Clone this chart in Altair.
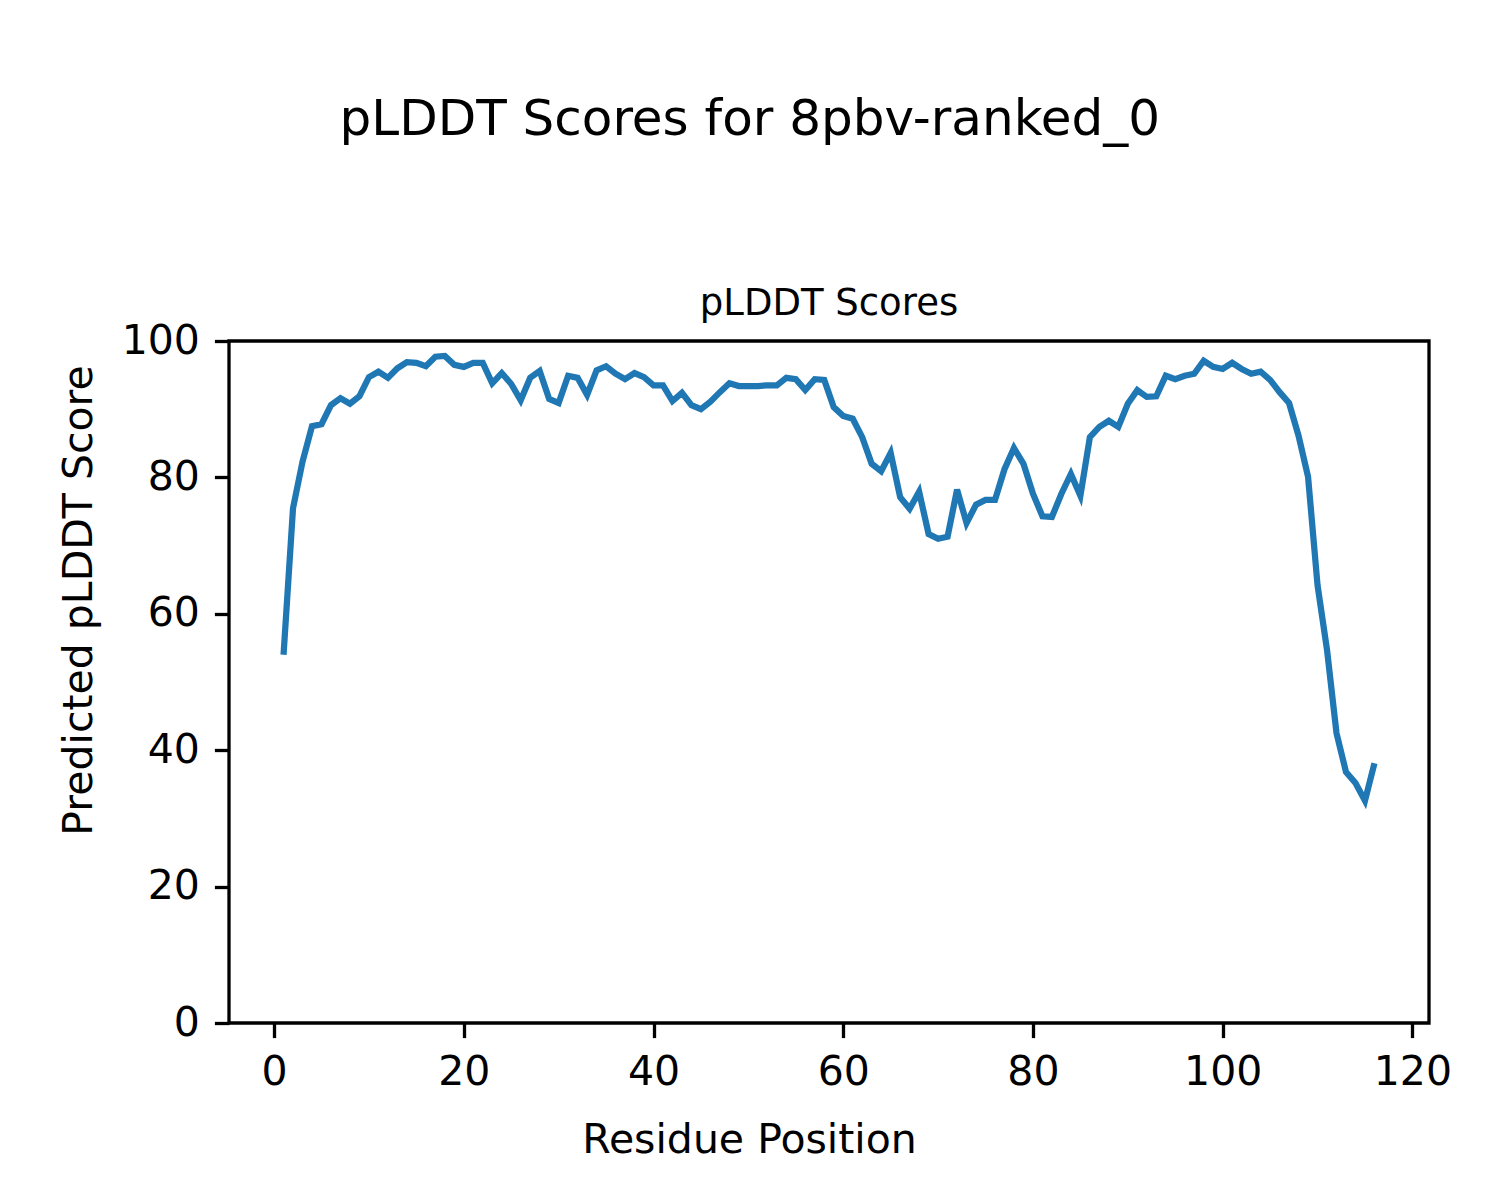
import altair as alt
import pandas as pd

residues = list(range(1, 117))
plddt = [
    54.0, 75.5, 82.3, 87.5, 87.8, 90.6, 91.6, 90.8, 91.9, 94.7,
    95.5, 94.6, 96.0, 96.9, 96.8, 96.3, 97.7, 97.8, 96.5, 96.2,
    96.8, 96.8, 93.8, 95.3, 93.7, 91.3, 94.6, 95.6, 91.5, 90.9,
    94.9, 94.6, 92.1, 95.7, 96.3, 95.2, 94.4, 95.3, 94.7, 93.5,
    93.5, 91.2, 92.4, 90.6, 90.0, 91.1, 92.5, 93.8, 93.4, 93.4,
    93.4, 93.5, 93.5, 94.6, 94.4, 92.8, 94.4, 94.3, 90.3, 89.0,
    88.6, 85.9, 82.0, 80.9, 83.6, 77.1, 75.4, 77.9, 71.7, 71.0,
    71.3, 78.2, 73.3, 76.0, 76.7, 76.7, 81.2, 84.3, 82.0, 77.6,
    74.3, 74.2, 77.6, 80.5, 77.3, 85.9, 87.4, 88.3, 87.4, 90.8,
    92.8, 91.8, 91.9, 94.9, 94.4, 94.9, 95.2, 97.1, 96.2, 95.9,
    96.8, 95.9, 95.2, 95.5, 94.3, 92.5, 90.9, 86.1, 80.1, 64.2,
    54.7, 42.5, 36.8, 35.2, 32.6, 38.1,
]
x_ticks = [0, 20, 40, 60, 80, 100, 120]
y_ticks = [0, 20, 40, 60, 80, 100]

df = pd.DataFrame({"Residue": residues, "pLDDT": plddt})

FONT = "DejaVu Sans"

axis_common = dict(
    domain=False,
    ticks=True,
    tickSize=14.6,
    tickWidth=3.3,
    tickColor="black",
    labelFont=FONT,
    labelFontSize=41,
    labelColor="black",
    labelPadding=15,
    titleFont=FONT,
    titleFontSize=41,
    titleFontWeight="normal",
    titleColor="black",
    grid=False,
)

line = alt.Chart(df).mark_line(color="#1f77b4", strokeWidth=6.25).encode(
    x=alt.X(
        "Residue:Q",
        scale=alt.Scale(domain=[-4.75, 121.75], nice=False, zero=False),
        axis=alt.Axis(values=x_ticks, title="Residue Position", titlePadding=28,
                      titleX=520, **axis_common),
    ),
    y=alt.Y(
        "pLDDT:Q",
        scale=alt.Scale(domain=[0, 100], nice=False),
        axis=alt.Axis(values=y_ticks, title="Predicted pLDDT Score", titlePadding=21,
                      titleY=259, **axis_common),
    ),
).properties(
    width=1200,
    height=682,
    title=alt.TitleParams(
        "pLDDT Scores", font=FONT, fontSize=37, fontWeight="normal", color="black", offset=-3
    ),
)

chart = alt.vconcat(
    line,
    title=alt.TitleParams(
        "pLDDT Scores for 8pbv-ranked_0",
        font=FONT,
        fontSize=50,
        fontWeight="normal",
        color="black",
        anchor="middle",
        offset=138,
        dx=-5,
    ),
).configure_view(stroke="black", strokeWidth=3.3).properties(
    padding={"left": 48, "top": 87, "right": 30, "bottom": 8},
    background="white",
)

chart.save("out.html", embed_options={"renderer": "svg", "actions": False})
